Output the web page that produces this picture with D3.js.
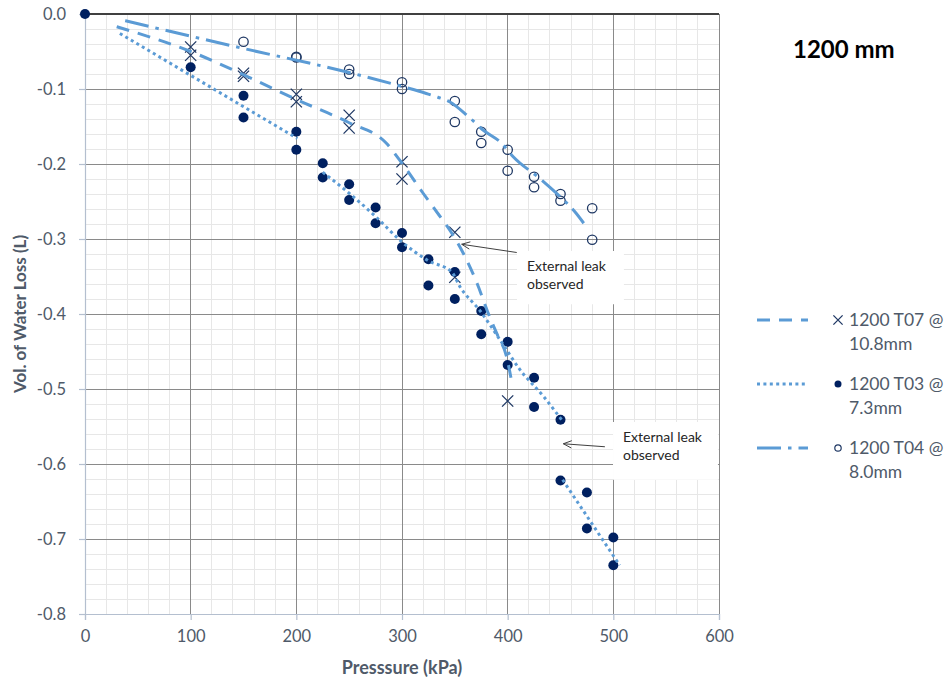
<!DOCTYPE html>
<html>
<head>
<meta charset="utf-8">
<script src="https://cdn.jsdelivr.net/npm/d3@7"></script>
<style>
  body { margin: 0; background: #fff; }
  text { font-family: Lato, "Open Sans", sans-serif; }
</style>
</head>
<body>
<svg id="chart" width="952" height="684"></svg>
<script>
// Axis ticks
const xTicks = [0, 100, 200, 300, 400, 500, 600];
const yTicks = [0, -0.1, -0.2, -0.3, -0.4, -0.5, -0.6, -0.7, -0.8];

// 1200 T07 @ 10.8mm
const pressureT07 = [100, 100, 150, 150, 200, 200, 250, 250, 300, 300, 350, 350, 400];
const lossT07 = [-0.044, -0.055, -0.079, -0.083, -0.107, -0.117, -0.135, -0.152, -0.197, -0.220, -0.291, -0.351, -0.516];

// 1200 T03 @ 7.3mm
const pressureT03 = [0, 100, 150, 150, 200, 200, 225, 225, 250, 250, 275, 275, 300, 300, 325, 325,
                     350, 350, 375, 375, 400, 400, 425, 425, 450, 450, 475, 475, 500, 500];
const lossT03 = [0, -0.071, -0.109, -0.138, -0.157, -0.181, -0.199, -0.218, -0.227, -0.248, -0.258, -0.279,
                 -0.292, -0.311, -0.327, -0.362, -0.344, -0.380, -0.396, -0.427, -0.437, -0.468,
                 -0.485, -0.524, -0.541, -0.622, -0.638, -0.686, -0.698, -0.735];

// 1200 T04 @ 8.0mm
const pressureT04 = [150, 200, 200, 250, 250, 300, 300, 350, 350, 375, 375, 400, 400, 425, 425, 450, 450, 480, 480];
const lossT04 = [-0.037, -0.057, -0.058, -0.074, -0.080, -0.091, -0.100, -0.116, -0.144, -0.157, -0.172,
                 -0.181, -0.209, -0.217, -0.231, -0.240, -0.249, -0.259, -0.301];

// Trend lines
const trendT07P = [30, 100, 150, 200, 250, 285, 300, 320, 335, 347, 358, 371, 383, 391, 399, 404];
const trendT07V = [-0.017, -0.050, -0.081, -0.114, -0.145, -0.172, -0.199, -0.239, -0.268, -0.292, -0.319,
                   -0.359, -0.404, -0.430, -0.457, -0.492];

const trendT03aP = [33, 201];
const trendT03aV = [-0.026, -0.166];
const trendT03bP = [225, 250, 275, 300, 325, 347, 355, 374, 393, 412, 434, 451];
const trendT03bV = [-0.211, -0.239, -0.270, -0.304, -0.329, -0.344, -0.364, -0.396, -0.435, -0.475, -0.510, -0.541];
const trendT03cP = [452, 506];
const trendT03cV = [-0.621, -0.735];

const trendT04P = [38, 150, 250, 301, 323, 334, 345, 363, 377, 394, 405, 431, 450, 465, 472];
const trendT04V = [-0.009, -0.046, -0.078, -0.097, -0.106, -0.111, -0.117, -0.137, -0.155, -0.172, -0.190,
                   -0.220, -0.244, -0.266, -0.279];

// Legend entries
const legendNames = [["1200 T07 @", "10.8mm"], ["1200 T03 @", "7.3mm"], ["1200 T04 @", "8.0mm"]];

// Annotations: text lines, arrow tail and head (kPa, L), text box corners (kPa, L)
const noteLines = ["External leak", "observed"];
const noteArrowTail = [[408.6, -0.318], [492, -0.577]];
const noteArrowHead = [[356.5, -0.307], [452.7, -0.573]];
const noteBoxFrom = [[408.8, -0.316], [499.7, -0.544]];
const noteBoxTo = [[510, -0.387], [599, -0.621]];

const titleText = "1200 mm";
const xTitle = "Presssure (kPa)";
const yTitle = "Vol. of Water Loss (L)";

const lineBlue = "#5b9bd5";
const navy = "#002060";
const markStroke = "#1f3864";
const textGrey = "#4f5a69";

const svg = d3.select("#chart");
const margin = { left: 85, right: 233, top: 14, bottom: 70 };
const W = 952, H = 684;

const x = d3.scaleLinear().domain([0, 600]).range([margin.left, W - margin.right]);
const y = d3.scaleLinear().domain([0, -0.8]).range([margin.top, H - margin.bottom]);

// Minor grid
const grid = svg.append("g");
grid.selectAll(".mx").data(d3.range(0, 601, 20)).join("line")
  .attr("x1", d => x(d)).attr("x2", d => x(d))
  .attr("y1", y(0)).attr("y2", y(-0.8))
  .attr("stroke", "#e7e7e7").attr("stroke-width", 1).attr("shape-rendering", "crispEdges");
grid.selectAll(".my").data(d3.range(0, 41).map(i => -i * 0.02)).join("line")
  .attr("y1", d => y(d)).attr("y2", d => y(d))
  .attr("x1", x(0)).attr("x2", x(600))
  .attr("stroke", "#e7e7e7").attr("stroke-width", 1).attr("shape-rendering", "crispEdges");

// Major grid
grid.selectAll(".Mx").data(xTicks.slice(1)).join("line")
  .attr("x1", d => x(d)).attr("x2", d => x(d))
  .attr("y1", y(0)).attr("y2", y(-0.8))
  .attr("stroke", "#8a8a8a").attr("stroke-width", 1).attr("shape-rendering", "crispEdges");
grid.selectAll(".My").data(yTicks.slice(0, -1)).join("line")
  .attr("y1", d => y(d)).attr("y2", d => y(d))
  .attr("x1", x(0)).attr("x2", x(600))
  .attr("stroke", d => d === 0 ? "#404040" : "#8a8a8a")
  .attr("stroke-width", d => d === 0 ? 1.5 : 1).attr("shape-rendering", "crispEdges");

// Axes
const axisColor = "#b4bfcf";
const xAxis = svg.append("g").attr("transform", `translate(0,${y(-0.8)})`)
  .call(d3.axisBottom(x).tickValues(xTicks).tickFormat(d3.format("d")).tickSize(6).tickPadding(10));
const yAxis = svg.append("g").attr("transform", `translate(${x(0)},0)`)
  .call(d3.axisLeft(y).tickValues(yTicks).tickFormat(d3.format(".1f")).tickSize(6).tickPadding(13));
[xAxis, yAxis].forEach(g => {
  g.select(".domain").attr("stroke", axisColor).attr("stroke-width", 1.2);
  g.selectAll(".tick line").attr("stroke", axisColor).attr("stroke-width", 1.2);
  g.selectAll(".tick text").attr("fill", textGrey).attr("font-size", 16.5)
    .attr("font-family", "Lato, 'Open Sans', sans-serif");
});
yAxis.selectAll(".tick text").text(d => d === 0 ? "0.0" : d3.format(".1f")(d).replace("−", "-"));
xAxis.selectAll(".tick text").attr("dy", "0.71em");

// Markers
const pts = (P, V) => P.map((p, i) => [p, V[i]]);
const marks = svg.append("g");
marks.selectAll(".t07").data(pts(pressureT07, lossT07)).join("path")
  .attr("d", d => {
    const cx = x(d[0]), cy = y(d[1]), s = 5.6;
    return `M${cx - s},${cy - s}L${cx + s},${cy + s}M${cx - s},${cy + s}L${cx + s},${cy - s}`;
  })
  .attr("stroke", markStroke).attr("stroke-width", 1.3).attr("fill", "none");
marks.selectAll(".t03").data(pts(pressureT03, lossT03)).join("circle")
  .attr("cx", d => x(d[0])).attr("cy", d => y(d[1])).attr("r", 5)
  .attr("fill", navy);
marks.selectAll(".t04").data(pts(pressureT04, lossT04)).join("circle")
  .attr("cx", d => x(d[0])).attr("cy", d => y(d[1])).attr("r", 4.7)
  .attr("fill", "none").attr("stroke", markStroke).attr("stroke-width", 1.3);

// Trend lines
const dashT07 = "13 9", dashT03 = "3 3.4", dashT04 = "24 7 3.5 7";
const line = d3.line().x(d => x(d[0])).y(d => y(d[1]));
const curved = d3.line().x(d => x(d[0])).y(d => y(d[1])).curve(d3.curveMonotoneX);
const trends = svg.append("g").attr("fill", "none").attr("stroke", lineBlue).attr("stroke-width", 3);
trends.append("path").attr("d", curved(pts(trendT07P, trendT07V))).attr("stroke-dasharray", dashT07);
trends.append("path").attr("d", line(pts(trendT03aP, trendT03aV))).attr("stroke-dasharray", dashT03);
trends.append("path").attr("d", curved(pts(trendT03bP, trendT03bV))).attr("stroke-dasharray", dashT03);
trends.append("path").attr("d", line(pts(trendT03cP, trendT03cV))).attr("stroke-dasharray", dashT03);
trends.append("path").attr("d", curved(pts(trendT04P, trendT04V))).attr("stroke-dasharray", dashT04);

// Annotations
const notes = svg.append("g");
noteBoxFrom.forEach((b, i) => {
  const e = noteBoxTo[i];
  notes.append("rect")
    .attr("x", x(b[0])).attr("y", y(b[1]))
    .attr("width", x(e[0]) - x(b[0])).attr("height", y(e[1]) - y(b[1]))
    .attr("fill", "#fff");
  const t = notes.append("text").attr("fill", "#262626").attr("font-size", 14)
    .attr("x", x(b[0]) + 10).attr("y", y(b[1]) + 20);
  noteLines.forEach((s, j) => t.append("tspan").attr("x", x(b[0]) + 10).attr("dy", j ? 18 : 0).text(s));
  const [tx, ty] = [x(noteArrowTail[i][0]), y(noteArrowTail[i][1])];
  const [hx, hy] = [x(noteArrowHead[i][0]), y(noteArrowHead[i][1])];
  notes.append("line").attr("x1", tx).attr("y1", ty).attr("x2", hx).attr("y2", hy)
    .attr("stroke", "#404040").attr("stroke-width", 1);
  const ang = Math.atan2(ty - hy, tx - hx), L = 9, a = 0.42;
  notes.append("path")
    .attr("d", `M${hx + L * Math.cos(ang + a)},${hy + L * Math.sin(ang + a)}L${hx},${hy}L${hx + L * Math.cos(ang - a)},${hy + L * Math.sin(ang - a)}`)
    .attr("fill", "none").attr("stroke", "#404040").attr("stroke-width", 1);
});

// Legend
const legend = svg.append("g");
const legendY = [320, 384, 448];
const legendDash = [dashT07, dashT03, dashT04];
legendNames.forEach((names, i) => {
  const ly = legendY[i];
  legend.append("line").attr("x1", 757).attr("x2", 808).attr("y1", ly).attr("y2", ly)
    .attr("stroke", lineBlue).attr("stroke-width", 3).attr("stroke-dasharray", legendDash[i]);
  const mx = 838;
  if (i === 0) {
    const s = 4.6;
    legend.append("path").attr("d", `M${mx - s},${ly - s}L${mx + s},${ly + s}M${mx - s},${ly + s}L${mx + s},${ly - s}`)
      .attr("stroke", markStroke).attr("stroke-width", 1.3);
  } else if (i === 1) {
    legend.append("circle").attr("cx", mx).attr("cy", ly).attr("r", 3.5).attr("fill", navy);
  } else {
    legend.append("circle").attr("cx", mx).attr("cy", ly).attr("r", 3.2)
      .attr("fill", "none").attr("stroke", markStroke).attr("stroke-width", 1.2);
  }
  const t = legend.append("text").attr("fill", textGrey).attr("font-size", 17.5)
    .attr("x", 849).attr("y", ly);
  names.forEach((s, j) => t.append("tspan").attr("x", 849).attr("dy", j ? 24 : "0.35em").text(s));
});

// Titles
svg.append("text").attr("x", 793).attr("y", 58).attr("font-size", 24).attr("font-weight", 700)
  .attr("fill", "#000").text(titleText);
svg.append("text").attr("x", (x(0) + x(600)) / 2).attr("y", 674).attr("text-anchor", "middle")
  .attr("font-size", 18).attr("font-weight", 700).attr("fill", textGrey).text(xTitle);
svg.append("text").attr("transform", `translate(26,${(y(0) + y(-0.8)) / 2}) rotate(-90)`)
  .attr("text-anchor", "middle").attr("font-size", 17).attr("font-weight", 700)
  .attr("fill", textGrey).text(yTitle);
</script>
</body>
</html>
